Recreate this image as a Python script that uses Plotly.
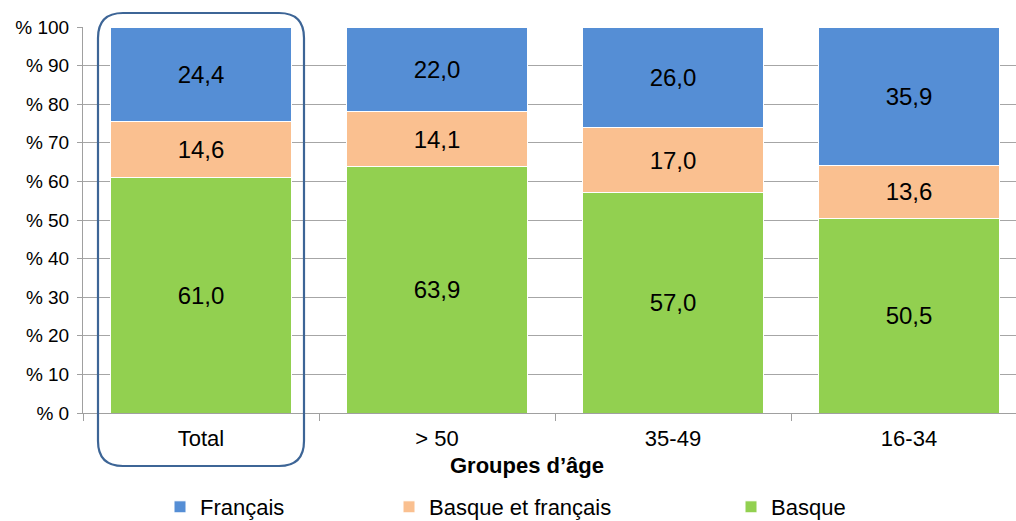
import plotly.graph_objects as go

categories = ["Total", "> 50", "35-49", "16-34"]
basque = [61.0, 63.9, 57.0, 50.5]
basque_fr = [14.6, 14.1, 17.0, 13.6]
francais = [24.4, 22.0, 26.0, 35.9]
y_ticks = [0, 10, 20, 30, 40, 50, 60, 70, 80, 90, 100]
y_tick_labels = ["% " + str(v) for v in y_ticks]

FONT = "Liberation Sans, Arial, sans-serif"
W, H = 1016, 521
L, R, T, B = 83, 0, 27, 108
PW, PH = W - L - R, H - T - B


def fmt(v):
    return f"{v:.1f}".replace(".", ",")


def px_x(px):
    return (px - L) / PW


def px_y(py):
    return (H - B - py) / PH


fig = go.Figure()
series = [
    ("Basque", basque, "#92D050", "legend3"),
    ("Basque et français", basque_fr, "#FAC090", "legend2"),
    ("Français", francais, "#558ED5", "legend"),
]
for name, vals, col, lg in series:
    fig.add_trace(go.Bar(
        x=categories, y=vals, name=name,
        marker=dict(color=col, line=dict(color="white", width=1)),
        width=0.763,
        text=[fmt(v) for v in vals],
        textposition="inside", insidetextanchor="middle",
        textangle=0, constraintext="none",
        textfont=dict(family=FONT, size=24, color="black"),
        legend=lg, showlegend=True,
    ))

# rounded rectangle around "Total"
x0, x1 = px_x(98), px_x(304)
y0, y1 = px_y(466), px_y(13)
rx, ry = 25 / PW, 25 / PH
path = (f"M {x0+rx},{y1} L {x1-rx},{y1} Q {x1},{y1} {x1},{y1-ry} "
        f"L {x1},{y0+ry} Q {x1},{y0} {x1-rx},{y0} "
        f"L {x0+rx},{y0} Q {x0},{y0} {x0},{y0+ry} "
        f"L {x0},{y1-ry} Q {x0},{y1} {x0+rx},{y1} Z")
fig.add_shape(type="path", path=path, xref="paper", yref="paper",
              line=dict(color="#3D6596", width=2.2), fillcolor="rgba(0,0,0,0)",
              layer="above")

fig.add_annotation(text="<b>Groupes d’âge</b>", x=px_x(527), y=px_y(465),
                   xref="paper", yref="paper", showarrow=False,
                   xanchor="center", yanchor="middle",
                   font=dict(family=FONT, size=22, color="black"))

leg_y = (H - 507) / H
leg_common = dict(orientation="h", yanchor="middle", y=leg_y, yref="container",
                  xanchor="left", xref="container",
                  font=dict(family=FONT, size=22, color="black"),
                  bgcolor="rgba(0,0,0,0)", itemwidth=30)
fig.update_layout(
    barmode="stack",
    width=W, height=H,
    margin=dict(l=L, r=R, t=T, b=B, autoexpand=False),
    paper_bgcolor="white", plot_bgcolor="white",
    font=dict(family=FONT, color="black"),
    showlegend=True,
    legend=dict(x=160 / W, **leg_common),
    legend2=dict(x=389 / W, **leg_common),
    legend3=dict(x=731 / W, **leg_common),
    xaxis=dict(
        range=[-0.5, -0.5 + PW / 236.0],
        showline=True, linecolor="#A0A0A0", linewidth=1,
        ticks="outside", tickson="boundaries", ticklen=7, tickcolor="#A0A0A0",
        tickfont=dict(family=FONT, size=22, color="black"),
        ticklabelstandoff=6,
        showgrid=False,
    ),
    yaxis=dict(
        range=[0, 100],
        tickvals=y_ticks, ticktext=y_tick_labels,
        showline=True, linecolor="#A0A0A0", linewidth=1,
        ticks="outside", ticklen=5, tickcolor="#A0A0A0",
        showgrid=True, gridcolor="#A6A6A6", gridwidth=1,
        zeroline=False,
        tickfont=dict(family=FONT, size=19, color="black"),
        ticklabelstandoff=4,
    ),
)

fig.write_html("out.html")
